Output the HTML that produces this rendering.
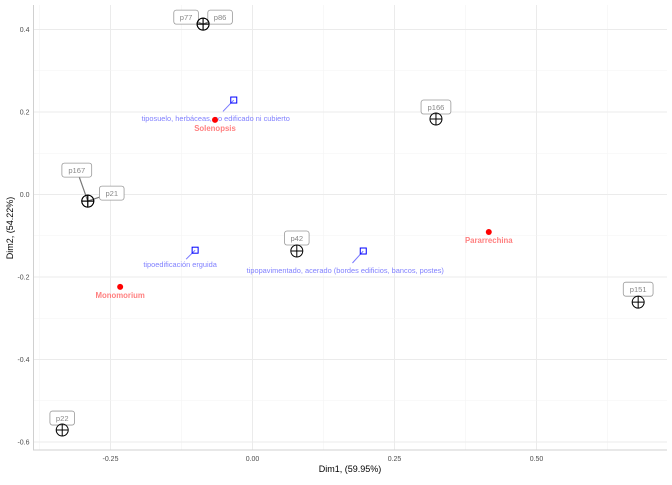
<!DOCTYPE html>
<html><head><meta charset="utf-8"><style>
body{margin:0;background:#fff}
svg{font-family:"Liberation Sans",sans-serif}
</style></head><body>
<svg id="c" width="672" height="480"></svg>
<script>
const xTicks=[-0.25,0,0.25,0.5];
const xTickLabels=["-0.25","0.00","0.25","0.50"];
const yTicks=[0.4,0.2,0,-0.2,-0.4,-0.6];
const yTickLabels=["0.4","0.2","0.0","-0.2","-0.4","-0.6"];
const indNames=["p77","p86","p167","p21","p166","p42","p151","p22"];
const indX=[-0.087,-0.087,-0.29,-0.29,0.323,0.078,0.679,-0.335];
const indY=[0.413,0.413,-0.016,-0.016,0.183,-0.137,-0.261,-0.571];
const spNames=["Solenopsis","Pararrechina","Monomorium"];
const spX=[-0.066,0.416,-0.233];
const spY=[0.181,-0.091,-0.224];
const varNames=["tiposuelo, herbáceas, no edificado ni cubierto","tipoedificación erguida","tipopavimentado, acerado (bordes edificios, bancos, postes)"];
const varX=[-0.033,-0.101,0.195];
const varY=[0.229,-0.135,-0.137];
// label offsets (px) - styling
const indOff=[[-17,-7],[17,-7],[-11,-31],[24,-8],[0,-12],[0,-13],[0,-13],[0,-12]];
const spOff=[[0,11],[0,11],[0,11]];
const varOff=[[-18,19],[-15,15],[-18,20]];

const sx=v=>252.5+v*568, sy=v=>194.5-v*412.5;
const L=33.5,R=667,T=5,B=450;
const svg=document.getElementById('c');
const NS="http://www.w3.org/2000/svg";
function mk(t,a,p){const e=document.createElementNS(NS,t);for(const k in a)e.setAttribute(k,a[k]);(p||svg).appendChild(e);return e;}
for(let i=0;i<xTicks.length;i++){
 const g=mk('line',{x1:sx(xTicks[i]),x2:sx(xTicks[i]),y1:T,y2:B,stroke:'#ebebeb','stroke-width':1});
 
 const m=mk('line',{x1:sx(xTicks[i]-0.125),x2:sx(xTicks[i]-0.125),y1:T,y2:B,stroke:'#f3f3f3','stroke-width':0.6});
 
 const t=mk('text',{x:sx(xTicks[i]),y:B+11,'font-size':7,fill:'#4d4d4d','text-anchor':'middle'});t.textContent=xTickLabels[i];
 
}
const m2=mk('line',{x1:sx(0.625),x2:sx(0.625),y1:T,y2:B,stroke:'#f3f3f3','stroke-width':0.6});

for(let i=0;i<yTicks.length;i++){
 const g=mk('line',{x1:L,x2:R,y1:sy(yTicks[i]),y2:sy(yTicks[i]),stroke:'#ebebeb','stroke-width':1});
 
 const m=mk('line',{x1:L,x2:R,y1:sy(yTicks[i]-0.1),y2:sy(yTicks[i]-0.1),stroke:'#f3f3f3','stroke-width':0.6});
 
 const t=mk('text',{x:L-4,y:sy(yTicks[i])+2.5,'font-size':7,fill:'#4d4d4d','text-anchor':'end'});t.textContent=yTickLabels[i];
 
}
const ax=mk('path',{d:`M${L},${T}V${B}H${R}`,stroke:'#d0d0d0',fill:'none'});

const xt=mk('text',{x:350,y:472,'font-size':9,fill:'#000','text-anchor':'middle'});xt.textContent="Dim1, (59.95%)";

const yt=mk('text',{x:13,y:228,'font-size':9,fill:'#000','text-anchor':'middle',transform:'rotate(-90 13 228)'});yt.textContent="Dim2, (54.22%)";

for(let i=0;i<varNames.length;i++){
 const x=sx(varX[i]),y=sy(varY[i]);
 const ln=mk('line',{x1:x,y1:y,x2:x+varOff[i][0]*0.6,y2:y+varOff[i][1]*0.6,stroke:'#7777ff','stroke-width':1});
 
 const r=mk('rect',{x:x-3,y:y-3,width:6,height:6,fill:'none',stroke:'#0000ff','stroke-width':1});
 
 const t=mk('text',{x:x+varOff[i][0],y:y+varOff[i][1]+2,'font-size':7.4,fill:'#8080ff','text-anchor':'middle'});t.textContent=varNames[i];
 
}
for(let i=0;i<spNames.length;i++){
 const x=sx(spX[i]),y=sy(spY[i]);
 const c=mk('circle',{cx:x,cy:y,r:3,fill:'#ff0000'});
 
 const t=mk('text',{x:x+spOff[i][0],y:y+spOff[i][1],'font-size':7.8,'font-weight':'bold',fill:'#ff8080','text-anchor':'middle'});t.textContent=spNames[i];
 
}
for(let i=0;i<indNames.length;i++){
 const x=sx(indX[i]),y=sy(indY[i]);
 const ox=x+indOff[i][0],oy=y+indOff[i][1];
 if(Math.hypot(indOff[i][0],indOff[i][1])>16){
  const ln=mk('line',{x1:x,y1:y,x2:ox,y2:oy,stroke:'#777','stroke-width':1.2});
  
 }
 const w=indNames[i].length*5.2+9;
 const bx=mk('rect',{x:ox-w/2,y:oy-7,width:w,height:14,rx:2.5,fill:'#fff',stroke:'#999','stroke-width':0.8});
 
 const t=mk('text',{x:ox,y:oy+2.8,'font-size':7.6,fill:'#888','text-anchor':'middle'});t.textContent=indNames[i];
 
}
for(let i=0;i<indNames.length;i++){
 const x=sx(indX[i]),y=sy(indY[i]);
 const g=mk('g',{});
 
 mk('circle',{cx:x,cy:y,r:6,fill:'none',stroke:'#000','stroke-width':1},g);
 mk('path',{d:`M${x-6},${y}H${x+6}M${x},${y-6}V${y+6}`,stroke:'#000','stroke-width':1},g);
}
</script>
</body></html>
